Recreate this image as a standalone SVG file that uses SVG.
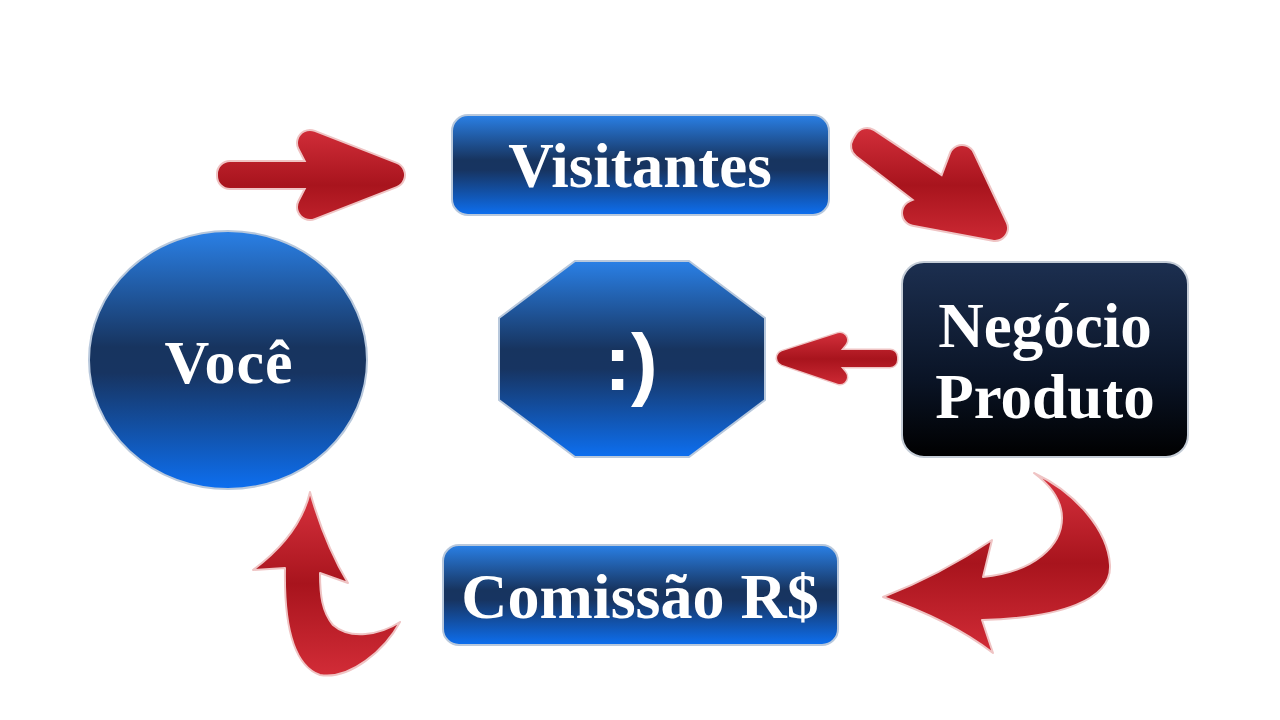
<svg xmlns="http://www.w3.org/2000/svg" width="1280" height="720" viewBox="0 0 1280 720">
<defs>
<linearGradient id="blue" x1="0" y1="0" x2="0" y2="1">
<stop offset="0" stop-color="#2a80e6"/>
<stop offset="0.45" stop-color="#17345f"/>
<stop offset="0.55" stop-color="#173461"/>
<stop offset="1" stop-color="#0d6ff0"/>
</linearGradient>
<linearGradient id="dark" x1="0" y1="0" x2="0" y2="1">
<stop offset="0" stop-color="#1c2f50"/>
<stop offset="0.6" stop-color="#0a1426"/>
<stop offset="1" stop-color="#000000"/>
</linearGradient>
<linearGradient id="red" x1="0" y1="0" x2="0" y2="1">
<stop offset="0" stop-color="#d8323e"/>
<stop offset="0.5" stop-color="#a8141d"/>
<stop offset="1" stop-color="#d22c37"/>
</linearGradient>
<linearGradient id="redu" gradientUnits="userSpaceOnUse" x1="0" y1="120" x2="0" y2="250">
<stop offset="0" stop-color="#d8323e"/>
<stop offset="0.5" stop-color="#a8141d"/>
<stop offset="1" stop-color="#d22c37"/>
</linearGradient>
<linearGradient id="redm" gradientUnits="userSpaceOnUse" x1="0" y1="330" x2="0" y2="388">
<stop offset="0" stop-color="#d8323e"/>
<stop offset="0.5" stop-color="#a8141d"/>
<stop offset="1" stop-color="#d22c37"/>
</linearGradient>
<style>
.node{stroke:#b8c8dc;stroke-width:2}
.lbl{font-family:"Liberation Serif","Times New Roman",serif;font-weight:bold;fill:#ffffff;text-anchor:middle}
.arr{fill:url(#red);stroke:#efc4c4;stroke-width:2;stroke-linejoin:round}
.ao{fill:#efc4c4;stroke:#efc4c4;stroke-linejoin:round;stroke-linecap:round}
.ai{stroke-linejoin:round;stroke-linecap:round}
</style>
</defs>
<rect width="1280" height="720" fill="#ffffff"/>
<g id="connectors">
<g id="arrow1">
<path class="ao" stroke-width="28" d="M230 174 L326 174 L310 143 L392 175 L310 207 L326 176 L230 176 Z"/>
<path class="ai" stroke-width="24" fill="url(#redu)" stroke="url(#redu)" d="M230 174 L326 174 L310 143 L392 175 L310 207 L326 176 L230 176 Z"/>
</g>
<g id="arrow2">
<path class="ao" stroke-width="28" d="M867 141 L948 195 L962 158 L995 228 L915 213 L938 203 L864 146 Z"/>
<path class="ai" stroke-width="24" fill="url(#redu)" stroke="url(#redu)" d="M867 141 L948 195 L962 158 L995 228 L915 213 L938 203 L864 146 Z"/>
</g>
<g id="arrow3">
<path class="ao" stroke-width="17" d="M784 358 L840 340 L826 357 L890 357 L890 360 L826 360 L840 377 Z"/>
<path class="ai" stroke-width="14" fill="url(#redm)" stroke="url(#redm)" d="M784 358 L840 340 L826 357 L890 357 L890 360 L826 360 L840 377 Z"/>
</g>
<path id="arrow4" class="arr" d="M1034 473 C1075 492 1108 530 1110 565 C1112 600 1060 618 982 620 L993 653 Q950 620 883 597 Q940 575 992 540 L983 577 C1035 572 1062 545 1062 518 C1062 500 1050 485 1034 473 Z"/>
<path id="arrow5" class="arr" d="M310 492 Q300 535 253 570 L285 568 C284 620 292 665 320 675 C350 680 385 650 400 622 C380 635 350 640 333 625 C322 612 320 595 320 573 L348 583 Q325 545 310 492 Z"/>
</g>
<g id="node-voce">
<ellipse class="node" cx="228" cy="360" rx="139" ry="129" fill="url(#blue)"/>
<text class="lbl" x="229" y="383" font-size="62" letter-spacing="1">Você</text>
</g>
<g id="node-visitantes">
<rect class="node" x="452" y="115" width="377" height="100" rx="16" fill="url(#blue)"/>
<text class="lbl" x="640" y="187" font-size="63">Visitantes</text>
</g>
<g id="node-smiley">
<polygon class="node" points="575,261 689,261 765,318 765,400 689,457 575,457 499,400 499,318" fill="url(#blue)"/>
<text x="631" y="390" font-family="Liberation Sans, Arial, sans-serif" font-weight="bold" font-size="80" fill="#ffffff" text-anchor="middle">:)</text>
</g>
<g id="node-negocio">
<rect x="902" y="262" width="286" height="195" rx="22" fill="url(#dark)" stroke="#c4ccd6" stroke-width="2"/>
<text class="lbl" x="1045" y="347" font-size="63">Negócio</text>
<text class="lbl" x="1045" y="418" font-size="63">Produto</text>
</g>
<g id="node-comissao">
<rect class="node" x="443" y="545" width="395" height="100" rx="16" fill="url(#blue)"/>
<text class="lbl" x="640" y="618" font-size="64">Comissão R$</text>
</g>
</svg>
